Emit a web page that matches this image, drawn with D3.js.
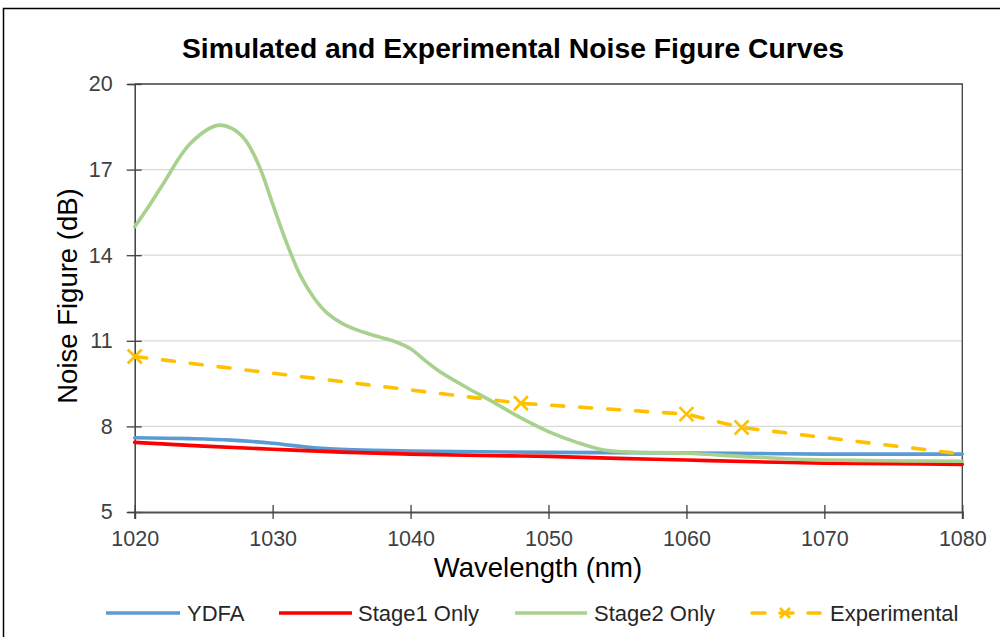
<!DOCTYPE html>
<html>
<head>
<meta charset="utf-8">
<script src="https://cdn.jsdelivr.net/npm/d3@7/dist/d3.min.js"></script>
<style>
  html, body { margin: 0; padding: 0; background: #fff; }
  svg { display: block; font-family: "Liberation Sans", Arial, sans-serif; }
</style>
</head>
<body>
<svg id="chart" width="1008" height="637"></svg>
<script>
// Noise figure (dB) versus wavelength (nm)
const xTicks = [1020, 1030, 1040, 1050, 1060, 1070, 1080];
const yTicks = [5, 8, 11, 14, 17, 20];

const ydfaWl = [1020, 1024, 1027, 1030, 1033, 1036, 1040, 1045, 1050, 1055, 1060, 1065, 1070, 1075, 1080];
const ydfaNF = [7.60, 7.57, 7.52, 7.41, 7.25, 7.18, 7.14, 7.11, 7.09, 7.08, 7.07, 7.05, 7.03, 7.03, 7.03];

const stage1Wl = [1020, 1025, 1030, 1035, 1040, 1045, 1050, 1055, 1060, 1065, 1070, 1075, 1080];
const stage1NF = [7.44, 7.31, 7.20, 7.10, 7.03, 6.98, 6.95, 6.88, 6.82, 6.76, 6.71, 6.69, 6.67];

const stage2Wl = [1020, 1021, 1022, 1024, 1026, 1027, 1028, 1029, 1030, 1031, 1032, 1033, 1034, 1035, 1036, 1037, 1038, 1039, 1040, 1041, 1042, 1044, 1046, 1048, 1050, 1052, 1054, 1056, 1060, 1064, 1068, 1072, 1076, 1080];
const stage2NF = [15.0, 15.7, 16.45, 17.9, 18.55, 18.45, 18.05, 17.15, 15.8, 14.45, 13.3, 12.5, 11.95, 11.62, 11.4, 11.24, 11.1, 10.95, 10.72, 10.33, 9.96, 9.38, 8.85, 8.3, 7.82, 7.45, 7.17, 7.1, 7.06, 6.95, 6.85, 6.81, 6.79, 6.78];

const expWl = [1020, 1048, 1060, 1064, 1080];
const expNF = [10.45, 8.81, 8.43, 7.96, 7.03];
const expMarker = [true, true, true, true, false];

const seriesNames = ["YDFA", "Stage1 Only", "Stage2 Only", "Experimental"];
const seriesColors = ["#5B9BD5", "#FF0000", "#A9D18E", "#FFC000"];

const svg = d3.select("#chart");
const plot = { left: 134.7, right: 962.3, top: 84, bottom: 512 };

const x = d3.scaleLinear().domain([1020, 1080]).range([plot.left, plot.right]);
const y = d3.scaleLinear().domain([5, 20]).range([plot.bottom, plot.top]);

// outer frame (top and left edges)
svg.append("path")
  .attr("d", "M3.5,640V8.5H1000")
  .attr("fill", "none").attr("stroke", "#000").attr("stroke-width", 1.5);

// title
svg.append("text")
  .attr("x", 513).attr("y", 58)
  .attr("text-anchor", "middle")
  .attr("font-size", 28.3).attr("font-weight", "bold").attr("fill", "#000")
  .text("Simulated and Experimental Noise Figure Curves");

// horizontal gridlines
svg.append("g").selectAll("line")
  .data(yTicks.filter(d => d > 5 && d < 20))
  .join("line")
  .attr("x1", plot.left).attr("x2", plot.right)
  .attr("y1", d => y(d)).attr("y2", d => y(d))
  .attr("stroke", "#D9D9D9").attr("stroke-width", 1.2);

// plot frame
svg.append("path")
  .attr("d", `M${plot.left},${plot.top}H${plot.right}V${plot.bottom}`)
  .attr("fill", "none").attr("stroke", "#404040").attr("stroke-width", 1.3);

// y axis
const yAxis = svg.append("g")
  .attr("transform", `translate(${plot.left},0)`)
  .call(d3.axisLeft(y).tickValues(yTicks).tickSize(7).tickPadding(15).tickFormat(d3.format("d")));
yAxis.select(".domain").attr("stroke", "#404040").attr("stroke-width", 1.5);
yAxis.selectAll(".tick line").attr("stroke", "#404040").attr("stroke-width", 1.3)
  .attr("x1", 7).attr("x2", -8);
yAxis.selectAll(".tick text")
  .attr("font-family", "Liberation Sans, Arial, sans-serif")
  .attr("font-size", 21.5).attr("fill", "#404040");

// x axis
const xAxis = svg.append("g")
  .attr("transform", `translate(0,${plot.bottom})`)
  .call(d3.axisBottom(x).tickValues(xTicks).tickSize(7).tickPadding(12).tickFormat(d3.format("d")));
xAxis.select(".domain").attr("stroke", "#505050").attr("stroke-width", 2);
xAxis.selectAll(".tick line").attr("stroke", "#404040").attr("stroke-width", 1.3)
  .attr("y1", -7).attr("y2", 7);
xAxis.selectAll(".tick text")
  .attr("font-family", "Liberation Sans, Arial, sans-serif")
  .attr("font-size", 21.5).attr("fill", "#404040");

// axis titles
svg.append("text")
  .attr("x", 538).attr("y", 577)
  .attr("text-anchor", "middle")
  .attr("font-size", 27.5).attr("fill", "#000")
  .text("Wavelength (nm)");

svg.append("text")
  .attr("transform", "translate(77,296) rotate(-90)")
  .attr("text-anchor", "middle")
  .attr("font-size", 27.5).attr("fill", "#000")
  .text("Noise Figure (dB)");

// simulated curves (smoothed)
const smooth = d3.line()
  .x(d => x(d[0])).y(d => y(d[1]))
  .curve(d3.curveCatmullRom.alpha(0.5));

const simSeries = [
  [ydfaWl, ydfaNF],
  [stage1Wl, stage1NF],
  [stage2Wl, stage2NF]
];
simSeries.forEach(([wl, nf], i) => {
  svg.append("path")
    .datum(d3.zip(wl, nf))
    .attr("d", smooth)
    .attr("fill", "none")
    .attr("stroke", seriesColors[i])
    .attr("stroke-width", 3.6)
    .attr("stroke-linecap", "round")
    .attr("stroke-linejoin", "round");
});

// experimental series: dashed straight segments with x markers
const straight = d3.line().x(d => x(d[0])).y(d => y(d[1]));
const expPts = d3.zip(expWl, expNF, expMarker);
svg.append("path")
  .datum(expPts)
  .attr("d", straight)
  .attr("fill", "none")
  .attr("stroke", seriesColors[3])
  .attr("stroke-width", 3.6)
  .attr("stroke-dasharray", "12,16")
  .attr("stroke-linecap", "round");

function xMarker(g, cx, cy, r) {
  g.append("path")
    .attr("d", `M${cx - r},${cy - r}L${cx + r},${cy + r}M${cx - r},${cy + r}L${cx + r},${cy - r}`)
    .attr("stroke", seriesColors[3])
    .attr("stroke-width", 2.6)
    .attr("fill", "none");
}
const markers = svg.append("g");
expPts.filter(d => d[2]).forEach(d => xMarker(markers, x(d[0]), y(d[1]), 7));

// legend
const legendY = 613;
const legendItems = [
  { x1: 106, x2: 180, tx: 187 },
  { x1: 279, x2: 352, tx: 358 },
  { x1: 515, x2: 587, tx: 594 },
  { x1: 750, x2: 820, tx: 830 }
];
const legend = svg.append("g");
legendItems.forEach((it, i) => {
  const ln = legend.append("line")
    .attr("x1", it.x1).attr("x2", it.x2)
    .attr("y1", legendY).attr("y2", legendY)
    .attr("stroke", seriesColors[i]).attr("stroke-width", 3.6);
  if (i === 3) {
    ln.attr("stroke-dasharray", "13,15").attr("stroke-linecap", "round")
      .attr("x1", it.x1 + 2);
    xMarker(legend, (it.x1 + it.x2) / 2, legendY, 5);
  }
  legend.append("text")
    .attr("x", it.tx).attr("y", legendY + 8)
    .attr("font-size", 22).attr("fill", "#262626")
    .text(seriesNames[i]);
});
</script>
</body>
</html>
